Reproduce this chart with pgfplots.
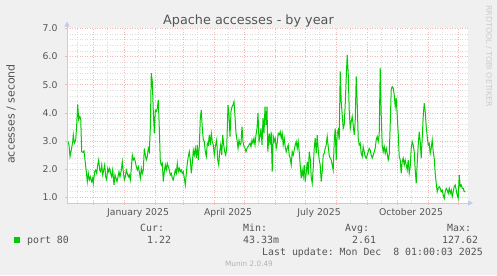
\documentclass[border=0pt]{standalone}
\usepackage{pgfplots}
\pgfplotsset{compat=1.18}
\usepackage{fontspec}
\setmainfont{DejaVu Sans}
\setmonofont{DejaVu Sans Mono}
\usetikzlibrary{arrows.meta}
\definecolor{bgc}{HTML}{F0F0F0}
\definecolor{txt}{HTML}{555555}
\definecolor{majg}{HTML}{F2B8B8}
\definecolor{ming}{HTML}{DCDCDC}
\definecolor{axc}{HTML}{C8C8F8}
\definecolor{lgreen}{HTML}{00CC00}
\definecolor{wm}{HTML}{CCCCCC}
\begin{document}
\begin{tikzpicture}[x=1bp,y=1bp]
\fill[bgc] (0,0) rectangle (497,275);
\begin{axis}[
  at={(67bp,72bp)}, anchor=south west, scale only axis,
  width=401bp, height=174.7bp,
  xmin=0, xmax=401, ymin=0.8, ymax=7.0,
  axis background/.style={fill=white},
  axis line style={draw=none},
  clip=true,
  /pgf/number format/assume math mode=true,
  xtick={26,57,88,116,147,177,208,238,269,300,330,361,391},
  xticklabels={},
  minor xtick={10,40,71,102,130,161,191,222,252,283,314,344,375},
  extra x ticks={71,161,252,344},
  extra x tick labels={January 2025,April 2025,July 2025,October 2025},
  extra x tick style={xmajorgrids=false, major tick length=0pt,
     xticklabel style={anchor=base, yshift=-12.5bp, text=txt, font=\fontsize{9.3bp}{11bp}\selectfont}},
  ytick={1,2,3,4,5,6,7},
  minor ytick={1.2,1.4,1.6,1.8,2.2,2.4,2.6,2.8,3.2,3.4,3.6,3.8,4.2,4.4,4.6,4.8,5.2,5.4,5.6,5.8,6.2,6.4,6.6,6.8},
  yticklabel style={/pgf/number format/.cd, fixed, fixed zerofill, precision=1, /tikz/.cd,
     text=txt, font=\fontsize{9.3bp}{11bp}\selectfont, anchor=east, xshift=-4bp},
  xmajorgrids, ymajorgrids, xminorgrids, yminorgrids,
  major grid style={draw=majg, line width=0.6bp, dash pattern=on 1bp off 1.5bp},
  minor grid style={draw=ming, line width=0.6bp, dash pattern=on 1bp off 1.5bp},
  tick align=outside, xtick pos=bottom, ytick pos=left,
  major tick length=2bp, minor tick length=0bp,
  major tick style={draw=majg, line width=0.6bp},
]
\addplot[lgreen, line width=1bp] coordinates {
(0,3.00)(1.0,2.98)(2.0,2.86)(3.0,2.45)(4.3,2.68)(5.7,2.98)(6.3,3.22)(7.3,2.92)(8.7,3.04)(9.7,3.57)
(10.7,4.30)(11.7,3.75)(12.7,3.87)(13.7,3.81)(14.7,2.62)(16.0,2.60)(17.0,2.65)(18.0,2.33)(19.3,1.91)(20.3,1.56)
(21.3,1.85)(22.3,1.62)(23.3,1.73)(24.7,1.56)(25.7,1.68)(26.3,1.50)(27.7,1.91)(28.7,1.97)(29.7,1.85)(30.7,2.15)
(31.7,2.33)(32.7,1.97)(33.7,1.91)(34.7,2.15)(35.7,1.80)(36.7,1.97)(37.7,2.15)(38.7,1.73)(39.7,1.62)(40.7,2.03)
(41.7,1.91)(42.7,2.03)(43.7,1.85)(44.7,1.73)(45.7,1.97)(47.0,1.44)(48.0,1.80)(49.0,1.68)(50.0,1.56)(51.0,1.73)
(52.0,1.91)(53.0,1.73)(54.3,1.97)(55.3,2.27)(56.3,1.91)(57.3,1.62)(58.3,1.73)(59.3,1.97)(60.3,1.85)(61.3,1.73)
(62.3,1.80)(63.3,1.62)(64.3,2.03)(65.3,2.50)(66.3,2.33)(67.3,2.39)(68.3,2.27)(69.3,2.09)(70.3,1.97)(71.3,2.09)
(72.3,1.91)(73.3,1.68)(74.3,2.03)(75.3,1.85)(76.3,1.97)(77.3,2.74)(78.3,2.50)(79.3,2.33)(80.3,2.45)(81.3,2.74)
(82.3,2.62)(83.3,3.45)(84.3,5.41)(85.3,5.11)(86.3,4.05)(87.3,3.27)(88.3,4.10)(89.3,4.05)(90.3,4.16)(91.3,4.46)
(92.3,3.45)(93.3,2.27)(94.3,2.15)(95.3,2.21)(96.3,1.56)(97.3,1.91)(98.3,2.15)(99.3,1.97)(100.3,2.21)(101.3,2.09)
(102.3,1.97)(103.3,1.80)(104.3,1.85)(105.3,1.68)(106.3,1.62)(107.3,1.80)(108.3,1.97)(109.3,1.85)(110.3,2.21)(111.3,1.91)
(112.3,2.03)(113.3,1.91)(114.3,1.97)(115.3,1.85)(116.3,1.91)(117.3,1.68)(118.3,1.44)(119.3,1.85)(120.3,2.21)(121.3,2.45)
(122.3,2.62)(123.3,2.33)(124.3,1.85)(125.3,2.21)(126.3,2.68)(127.3,2.50)(128.3,2.74)(129.3,2.39)(130.3,2.86)(131.3,2.33)
(132.3,2.80)(133.3,3.81)(134.3,4.10)(135.3,3.45)(136.3,3.04)(137.3,2.98)(138.3,2.62)(139.3,2.45)(140.3,2.92)(141.3,2.86)
(142.3,3.22)(143.3,2.86)(144.3,3.27)(145.3,2.98)(146.3,2.86)(147.3,2.50)(148.3,2.80)(149.7,3.04)(150.7,2.33)(151.7,2.15)
(152.7,2.62)(153.7,2.86)(154.7,2.50)(155.7,3.22)(156.7,2.86)(157.7,2.62)(158.7,2.50)(159.7,2.74)(161.0,4.28)(162.0,3.93)
(163.0,3.16)(164.0,4.05)(165.0,4.22)(166.0,4.28)(167.0,4.40)(168.0,3.87)(169.0,3.27)(170.0,3.04)(171.0,2.74)(172.0,3.04)
(173.0,2.86)(174.0,2.92)(175.0,3.51)(176.0,2.98)(177.0,2.80)(178.0,2.74)(179.0,2.62)(180.0,2.74)(181.0,2.80)(182.0,2.86)
(183.0,2.92)(184.0,2.80)(185.0,3.04)(186.0,2.92)(187.0,3.10)(188.0,2.86)(189.0,3.22)(190.0,3.45)(191.0,3.99)(192.0,2.98)
(193.0,3.16)(194.0,3.45)(195.0,2.86)(196.0,3.81)(197.0,3.27)(198.0,4.22)(199.0,3.57)(200.0,4.22)
(200.8,2.62)(202.2,3.27)(203.2,2.86)(204.2,3.33)(205.2,1.91)(206.2,3.16)(207.2,2.98)(208.2,3.10)(209.2,2.74)(210.2,2.92)
(211.2,3.27)(212.2,3.22)(213.2,3.33)(214.2,3.10)(215.2,3.27)(216.2,2.86)(217.2,3.10)(218.2,2.80)(219.2,2.62)(220.2,2.74)
(221.2,2.86)(222.2,2.50)(223.2,2.39)(224.2,2.15)(225.2,2.62)(226.2,2.50)(227.2,2.68)(228.2,2.86)(229.2,2.98)(230.2,2.74)
(231.2,2.98)(232.2,2.62)(233.2,2.15)(234.2,1.68)(235.2,1.97)(236.2,1.73)(237.2,2.15)(238.2,1.56)(239.2,1.85)(240.2,2.27)
(241.2,1.80)(242.2,2.62)(243.2,2.39)(244.2,1.73)(245.2,1.50)(246.2,2.03)(247.2,2.74)(248.2,3.10)(249.2,2.56)(250.2,3.22)
(251.2,2.68)(252.2,2.33)(253.2,2.15)(254.2,1.56)(255.2,1.91)(256.2,2.50)(257.2,2.56)(258.2,2.74)(259.2,2.86)(260.2,3.16)
(261.2,2.80)(262.2,2.50)(263.2,2.39)(264.2,2.33)(265.2,2.15)(266.2,1.97)(267.2,2.98)(268.2,3.45)(269.2,2.33)(270.2,3.27)
(271.2,3.39)(272.2,3.04)(273.2,5.47)(274.2,4.40)(275.2,3.93)(276.2,3.45)(277.2,3.57)(278.2,4.28)(279.2,5.23)(280.2,6.06)
(281.2,5.41)(282.2,4.10)(283.2,3.45)(284.2,3.69)(285.2,3.87)(286.2,3.57)(287.2,3.22)(288.2,3.69)(289.2,5.29)(290.2,4.34)
(291.2,3.10)(292.2,2.86)(293.2,2.92)(294.2,2.56)(295.2,2.45)(296.2,2.80)(297.2,2.62)(298.2,2.45)(299.2,2.39)(300.2,2.50)
(301.2,2.62)(302.2,2.74)(303.2,2.68)(304.2,2.50)(305.2,2.39)(306.2,2.50)(307.2,2.62)(308.2,2.74)(309.2,3.04)(310.2,3.16)
(311.2,2.98)(312.2,3.22)(313.2,5.59)(314.2,3.93)(315.2,2.86)(316.2,2.62)(317.2,2.80)(318.2,2.56)(319.2,2.74)(320.2,2.56)
(321.2,2.33)(322.2,2.50)(323.2,3.57)(324.2,4.82)(325.2,4.93)(326.2,4.88)(327.2,4.64)(328.2,4.22)(329.2,4.52)(330.2,3.93)
(331.2,3.27)(332.2,2.45)(333.2,2.33)(334.2,1.85)(335.2,2.27)(336.2,2.39)(337.2,2.15)(338.2,2.33)(339.2,2.15)(340.2,1.97)
(341.2,2.33)(342.2,1.85)(343.2,2.09)(344.2,2.74)(345.2,2.98)(346.2,2.86)(347.2,2.62)(348.2,1.97)(349.2,1.50)(350.2,2.21)
(351.2,2.86)(352.2,3.33)(353.2,2.98)(354.2,2.39)(355.2,3.10)(356.2,3.87)(357.2,4.34)(358.2,4.05)(359.2,3.51)(360.2,3.16)
(361.2,2.86)(362.2,2.92)(363.2,2.56)(364.2,2.74)(365.2,3.04)(366.2,2.62)(367.2,2.39)(368.2,1.85)(369.2,1.50)(370.2,1.20)
(371.2,1.32)(372.2,1.38)(373.2,1.32)(374.2,1.20)(375.2,1.26)(376.2,1.08)(377.2,0.96)(378.2,1.20)(379.2,1.32)(380.2,1.26)
(381.2,1.14)(382.2,1.32)(383.2,1.14)(384.2,1.26)(385.2,1.02)(386.2,1.20)(387.2,1.38)(388.2,1.44)(389.2,1.26)(390.2,1.08)
(391.2,0.96)(392.2,1.80)(393.2,1.38)(394.2,1.44)(395.2,1.32)(396.2,1.32)(397.2,1.20)(398.2,1.22)
};
\end{axis}
% axis lines with arrows
\draw[axc, line width=0.9bp, -{Triangle[width=5bp,length=5bp]}] (67,71.5) -- (67,253.5);
\draw[axc, line width=0.9bp, -{Triangle[width=5bp,length=5bp]}] (66.5,72) -- (473,72);
% title
\node[anchor=base, inner sep=0, text=txt, font=\fontsize{12.8bp}{15bp}\selectfont] at (248.5,251) {Apache accesses - by year};
% y label
\node[rotate=90, inner sep=0, text=txt, font=\fontsize{11bp}{13bp}\selectfont] at (11,161) {accesses / second};
% watermark
\node[rotate=-90, inner sep=0, text=wm, font=\fontsize{7.9bp}{9bp}\selectfont] at (489,219) {RRDTOOL / TOBI OETIKER};
% legend
\fill[lgreen] (14,32) rectangle (20,38);
\begin{scope}[every node/.style={inner sep=0, text=txt, font=\ttfamily\fontsize{9.9bp}{12bp}\selectfont, anchor=base west}]
\node at (140,43.7) {Cur:};
\node at (243,43.7) {Min:};
\node at (345,43.7) {Avg:};
\node at (447,43.7) {Max:};
\node at (27,31.7) {port 80};
\node at (147,31.7) {1.22};
\node at (243,31.7) {43.33m};
\node at (352,31.7) {2.61};
\node at (442,31.7) {127.62};
\node at (262,19.3) {Last update:\ Mon Dec\ \ 8 01:00:03 2025};
\end{scope}
\node[anchor=base, inner sep=0, text=black!30, font=\fontsize{7.3bp}{9bp}\selectfont] at (249,8.3) {Munin 2.0.49};
\end{tikzpicture}
\end{document}
